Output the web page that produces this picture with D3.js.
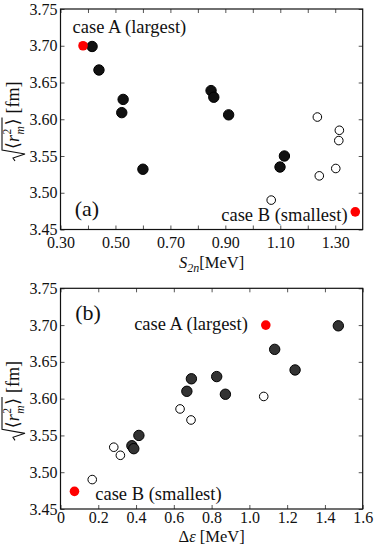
<!DOCTYPE html>
<html>
<head>
<meta charset="utf-8">
<script src="https://cdn.jsdelivr.net/npm/d3@7"></script>
<style>
  body { margin: 0; background: #fff; }
  svg text { font-family: "Liberation Serif", "Times New Roman", "DejaVu Serif", serif !important; }
</style>
</head>
<body>
<svg id="chart" width="374" height="546"></svg>
<script>
// panel (a): S2n vs radius
const s2nFilled = [0.415, 0.440, 0.528, 0.523, 0.600, 0.848, 0.858, 0.912, 1.099, 1.115];
const radFilledA = [3.699, 3.667, 3.627, 3.609, 3.532, 3.639, 3.630, 3.606, 3.535, 3.550];
const s2nOpen = [1.067, 1.235, 1.242, 1.302, 1.313, 1.315];
const radOpenA = [3.490, 3.603, 3.523, 3.533, 3.571, 3.585];
const s2nCases = [0.382, 1.373];

// panel (b): delta epsilon vs radius
const deFilled = [1.471, 1.134, 1.242, 0.693, 0.669, 0.827, 0.873, 0.415, 0.378, 0.388];
const radFilledB = [3.699, 3.667, 3.639, 3.627, 3.610, 3.630, 3.606, 3.550, 3.536, 3.532];
const deOpen = [1.076, 0.633, 0.691, 0.282, 0.317, 0.168];
const radOpenB = [3.603, 3.586, 3.571, 3.534, 3.523, 3.490];
const deCases = [1.087, 0.074];

const radCases = [3.700, 3.474];
const yTicks = [3.45, 3.50, 3.55, 3.60, 3.65, 3.70, 3.75];
const s2nTicks = [0.3, 0.4, 0.5, 0.6, 0.7, 0.8, 0.9, 1.0, 1.1, 1.2, 1.3];
const s2nLabels = [0.3, 0.5, 0.7, 0.9, 1.1, 1.3];
const deTicks = [0, 0.2, 0.4, 0.6, 0.8, 1.0, 1.2, 1.4, 1.6];

const svg = d3.select("#chart");
const left = 60.5, right = 362.7;

function drawPanel(cfg) {
    const g = svg.append("g");
    const x = d3.scaleLinear().domain(cfg.xDomain).range([left, right]);
    const y = d3.scaleLinear().domain([3.45, 3.75]).range([cfg.bottom, cfg.top]);

    // inward ticks on all four sides
    const xb = d3.axisBottom(x).tickValues(cfg.xTicks).tickSize(-4).tickPadding(cfg.xPad)
        .tickFormat(d => cfg.xLabels.some(v => Math.abs(v - d) < 1e-9) ? cfg.xFormat(d) : "");
    const xt = d3.axisTop(x).tickValues(cfg.xTicks).tickSize(-4).tickFormat("");
    const yl = d3.axisLeft(y).tickValues(yTicks).tickSize(-4).tickPadding(3).tickFormat(d3.format(".2f"));
    const yr = d3.axisRight(y).tickValues(yTicks).tickSize(-4).tickFormat("");

    [[xb, `translate(0,${cfg.bottom})`], [xt, `translate(0,${cfg.top})`],
     [yl, `translate(${left},0)`], [yr, `translate(${right},0)`]].forEach(([ax, tr]) => {
        const a = g.append("g").attr("transform", tr).call(ax);
        a.select(".domain").remove();
        a.selectAll("line").attr("stroke", "#555");
        a.selectAll("text").attr("font-size", 16).attr("fill", "#111");
    });

    g.append("rect")
        .attr("x", left).attr("y", cfg.top)
        .attr("width", right - left).attr("height", cfg.bottom - cfg.top)
        .attr("fill", "none").attr("stroke", "#111").attr("stroke-width", 1.2);

    g.selectAll(".filled")
        .data(cfg.filledX)
        .enter()
        .append("circle")
        .attr("cx", d => x(d))
        .attr("cy", (d, i) => y(cfg.filledY[i]))
        .attr("r", 5.2)
        .attr("fill", cfg.filledColor)
        .attr("stroke", "#000")
        .attr("stroke-width", 1);

    g.selectAll(".open")
        .data(cfg.openX)
        .enter()
        .append("circle")
        .attr("cx", d => x(d))
        .attr("cy", (d, i) => y(cfg.openY[i]))
        .attr("r", 4.3)
        .attr("fill", "#fff")
        .attr("stroke", "#000")
        .attr("stroke-width", 1);

    g.selectAll(".cases")
        .data(cfg.caseX)
        .enter()
        .append("circle")
        .attr("cx", d => x(d))
        .attr("cy", (d, i) => y(radCases[i]))
        .attr("r", 4.8)
        .attr("fill", "#f00");

    cfg.notes.forEach(n => {
        g.append("text")
            .attr("x", x(n.x)).attr("y", y(n.y))
            .attr("text-anchor", n.anchor || "start")
            .attr("font-size", n.size)
            .attr("fill", "#111")
            .text(n.text);
    });

    // x title
    const t = g.append("text")
        .attr("x", (left + right) / 2).attr("y", cfg.titleY)
        .attr("text-anchor", "middle").attr("font-size", 16.5).attr("fill", "#111");
    cfg.xTitle(t);

    drawYTitle(g, 19, (cfg.top + cfg.bottom) / 2 + 2);
}

function drawYTitle(parent, bx, cy) {
    const g = parent.append("g").attr("transform", `translate(${bx},${cy}) rotate(-90)`);
    const inner = g.append("g");
    let cx = 12;
    function piece(txt, size, dy, italic) {
        const el = inner.append("text").attr("x", cx).attr("y", dy)
            .attr("font-size", size).attr("fill", "#111")
            .attr("font-style", italic ? "italic" : "normal").text(txt);
        return el.node().getComputedTextLength();
    }
    const start = cx;
    cx += piece("\u27E8", 18, 0, false);
    cx += piece("r", 18, 0, true) + 0.5;
    const w2 = piece("2", 11.5, -8, false);
    const wm = piece("m", 11.5, 4.5, true);
    cx += Math.max(w2, wm) + 0.5;
    cx += piece("\u27E9", 18, 0, false);
    const end = cx + 1;
    inner.append("path")
        .attr("d", `M0,-4 L3,-6 L7,6 L${start - 1},-17 H${end}`)
        .attr("fill", "none").attr("stroke", "#111").attr("stroke-width", 1.1);
    cx += 5;
    cx += piece("[fm]", 18, 0, false);
    inner.attr("transform", `translate(${-cx / 2},0)`);
}

drawPanel({
    top: 9, bottom: 229.5, xPad: 7,
    xDomain: [0.3, 1.4], xTicks: s2nTicks, xLabels: s2nLabels, xFormat: d3.format(".2f"),
    filledX: s2nFilled, filledY: radFilledA, filledColor: "#111",
    openX: s2nOpen, openY: radOpenA, caseX: s2nCases,
    notes: [
        {text: "case A (largest)", x: 0.344, y: 3.717, size: 18.5},
        {text: "(a)", x: 0.352, y: 3.468, size: 22},
        {text: "case B (smallest)", x: 1.345, y: 3.461, size: 18.5, anchor: "end"}
    ],
    titleY: 268,
    xTitle: t => {
        t.append("tspan").attr("font-style", "italic").text("S");
        t.append("tspan").attr("font-style", "italic").attr("font-size", 12).attr("dy", 4).text("2n");
        t.append("tspan").attr("dy", -4).text("[MeV]");
    }
});

drawPanel({
    top: 288.3, bottom: 509, xPad: 3,
    xDomain: [0, 1.6], xTicks: deTicks, xLabels: deTicks, xFormat: d => d === 0 ? "0" : d3.format(".1f")(d),
    filledX: deFilled, filledY: radFilledB, filledColor: "#333",
    openX: deOpen, openY: radOpenB, caseX: deCases,
    notes: [
        {text: "(b)", x: 0.078, y: 3.707, size: 22},
        {text: "case A (largest)", x: 0.39, y: 3.693, size: 18.5},
        {text: "case B (smallest)", x: 0.184, y: 3.462, size: 18.5}
    ],
    titleY: 541.5,
    xTitle: t => {
        t.append("tspan").text("\u0394");
        t.append("tspan").attr("font-style", "italic").text("\u03B5");
        t.append("tspan").text(" [MeV]");
    }
});
</script>
</body>
</html>
